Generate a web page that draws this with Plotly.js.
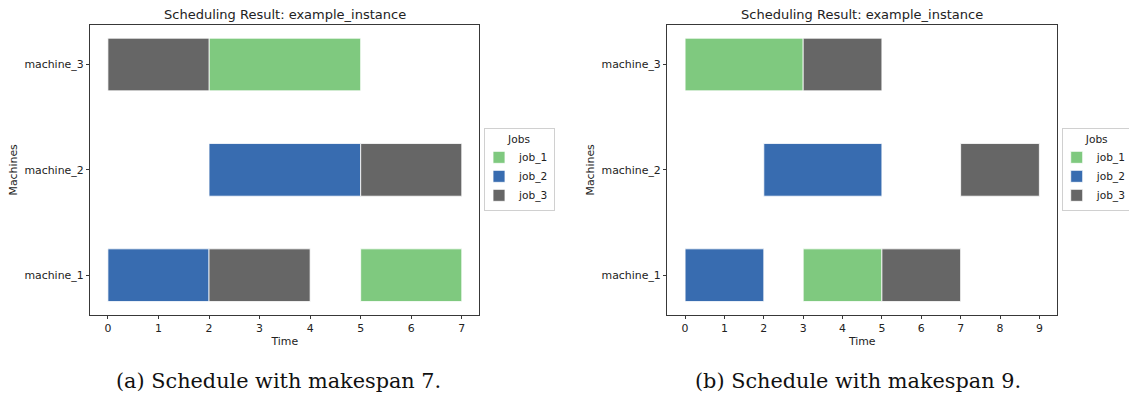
<!DOCTYPE html>
<html>
<head>
<meta charset="utf-8">
<script src="https://cdn.plot.ly/plotly-3.0.1.min.js"></script>
<style>
html, body { margin: 0; padding: 0; background: #fff; overflow: hidden; }
#chart { width: 1129px; height: 394px; }
</style>
</head>
<body>
<div id="chart"></div>
<script>
// ---- data ----
const machines = ['machine_1', 'machine_2', 'machine_3'];
const jobs = ['job_1', 'job_2', 'job_3'];
const jobColors = ['#7fc97f', '#386cb0', '#666666'];
const xTicksA = [0, 1, 2, 3, 4, 5, 6, 7];
const xTicksB = [0, 1, 2, 3, 4, 5, 6, 7, 8, 9];
const chartTitle = 'Scheduling Result: example_instance';
const captionA = '(a) Schedule with makespan 7.';
const captionB = '(b) Schedule with makespan 9.';

// Schedule (a): makespan 7
const a_job1_machine = ['machine_3', 'machine_1'];
const a_job1_start = [2, 5];
const a_job1_end = [5, 7];
const a_job2_machine = ['machine_2', 'machine_1'];
const a_job2_start = [2, 0];
const a_job2_end = [5, 2];
const a_job3_machine = ['machine_3', 'machine_2', 'machine_1'];
const a_job3_start = [0, 5, 2];
const a_job3_end = [2, 7, 4];

// Schedule (b): makespan 9
const b_job1_machine = ['machine_3', 'machine_1'];
const b_job1_start = [0, 3];
const b_job1_end = [3, 5];
const b_job2_machine = ['machine_2', 'machine_1'];
const b_job2_start = [2, 0];
const b_job2_end = [5, 2];
const b_job3_machine = ['machine_3', 'machine_2', 'machine_1'];
const b_job3_start = [3, 7, 5];
const b_job3_end = [5, 9, 7];

const schedA = [
  [a_job1_machine, a_job1_start, a_job1_end],
  [a_job2_machine, a_job2_start, a_job2_end],
  [a_job3_machine, a_job3_start, a_job3_end]
];
const schedB = [
  [b_job1_machine, b_job1_start, b_job1_end],
  [b_job2_machine, b_job2_start, b_job2_end],
  [b_job3_machine, b_job3_start, b_job3_end]
];

function makeTraces(sched, xa, ya, legendName) {
  return sched.map((s, i) => ({
    type: 'bar',
    orientation: 'h',
    name: jobs[i],
    y: s[0],
    base: s[1],
    x: s[2].map((e, k) => e - s[1][k]),
    width: 0.5,
    xaxis: xa,
    yaxis: ya,
    legend: legendName,
    marker: { color: jobColors[i], line: { color: 'rgba(255,255,255,0.8)', width: 1 } },
    hoverinfo: 'skip'
  }));
}

const data = makeTraces(schedA, 'x', 'y', 'legend').concat(makeTraces(schedB, 'x2', 'y2', 'legend2'));

const fontFam = 'DejaVu Sans, sans-serif';
const txtCol = '#222';
const tickFont = { family: fontFam, size: 10.9, color: txtCol };
const yDom = [0.2013, 0.9365];

function xAxis(dom, ticks, range, anchor) {
  return {
    domain: dom, anchor: anchor, range: range,
    tickmode: 'array', tickvals: ticks, ticktext: ticks.map(String),
    ticks: 'outside', ticklen: 3.5, tickwidth: 0.9, tickcolor: txtCol,
    showline: true, mirror: true, linecolor: txtCol, linewidth: 0.9,
    showgrid: false, zeroline: false,
    tickfont: tickFont,
    title: { text: 'Time', font: { family: fontFam, size: 10.9, color: txtCol }, standoff: 3 }
  };
}
function yAxis(dom, anchor) {
  return {
    domain: dom, anchor: anchor, type: 'category',
    categoryorder: 'array', categoryarray: machines,
    range: [-0.375, 2.375],
    ticks: 'outside', ticklen: 3.5, tickwidth: 0.9, tickcolor: txtCol,
    showline: true, mirror: true, linecolor: txtCol, linewidth: 0.9,
    showgrid: false, zeroline: false,
    tickfont: tickFont,
    title: { text: 'Machines', font: { family: fontFam, size: 10.9, color: txtCol }, standoff: 4 }
  };
}
function legend(x) {
  return {
    x: x, y: 0.675, xanchor: 'left', yanchor: 'top',
    bgcolor: 'rgba(255,255,255,0.8)', bordercolor: '#d0d0d0', borderwidth: 1,
    font: { family: fontFam, size: 10.6, color: txtCol },
    title: { text: 'Jobs', side: 'top center', font: { family: fontFam, size: 10.6, color: txtCol } },
    tracegroupgap: 0, itemwidth: 30, indentation: -6
  };
}

const layout = {
  width: 1129, height: 394,
  margin: { l: 0, r: 0, t: 0, b: 0, autoexpand: false },
  paper_bgcolor: '#fff', plot_bgcolor: '#fff',
  showlegend: true,
  barmode: 'overlay',
  xaxis: xAxis([0.0799, 0.4247], xTicksA, [-0.35, 7.35], 'y'),
  yaxis: yAxis(yDom, 'x'),
  xaxis2: xAxis([0.5911, 0.9363], xTicksB, [-0.45, 9.45], 'y2'),
  yaxis2: yAxis(yDom, 'x2'),
  legend: legend(0.4287),
  legend2: legend(0.9404),
  annotations: [
    { text: chartTitle, xref: 'paper', yref: 'paper', x: 0.2523, y: 0.962, xanchor: 'center', yanchor: 'middle', showarrow: false, font: { family: fontFam, size: 13, color: txtCol } },
    { text: chartTitle, xref: 'paper', yref: 'paper', x: 0.7636, y: 0.962, xanchor: 'center', yanchor: 'middle', showarrow: false, font: { family: fontFam, size: 13, color: txtCol } },
    { text: captionA, xref: 'paper', yref: 'paper', x: 0.2465, y: 0.033, xanchor: 'center', yanchor: 'middle', showarrow: false, font: { family: 'DejaVu Serif, serif', size: 20.8, color: '#111' } },
    { text: captionB, xref: 'paper', yref: 'paper', x: 0.760, y: 0.033, xanchor: 'center', yanchor: 'middle', showarrow: false, font: { family: 'DejaVu Serif, serif', size: 20.8, color: '#111' } }
  ]
};

Plotly.newPlot('chart', data, layout, { displayModeBar: false, staticPlot: true });
</script>
</body>
</html>
